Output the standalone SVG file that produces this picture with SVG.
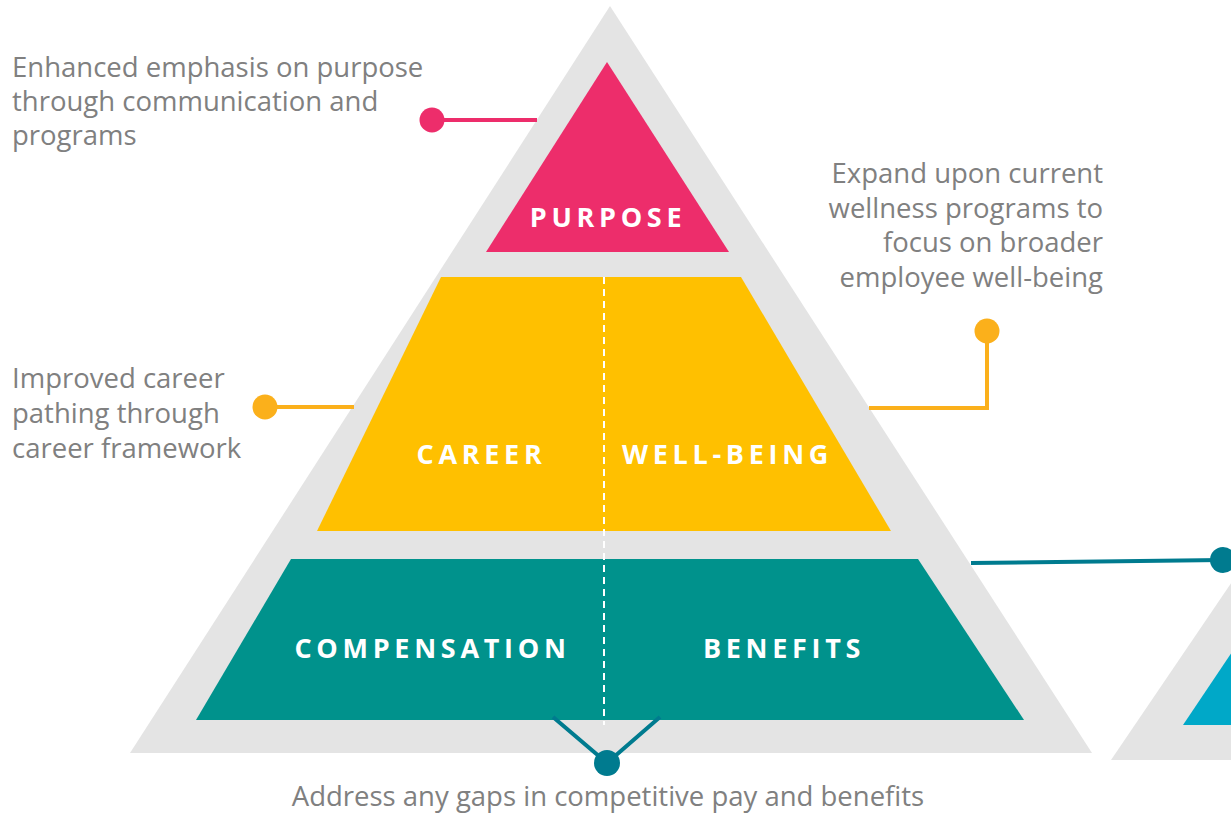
<svg xmlns="http://www.w3.org/2000/svg" width="1231" height="816" viewBox="0 0 1231 816">
<style>
.note{font-family:"Open Sans","Noto Sans","Liberation Sans",sans-serif;font-size:27.5px;fill:#808080}
.lbl{font-family:"Open Sans","Noto Sans","Liberation Sans",sans-serif;font-size:27px;font-weight:bold;fill:#ffffff;letter-spacing:4.7px;text-anchor:middle}
.gray{fill:#e4e4e4}
</style>
<rect width="1231" height="816" fill="#ffffff"/>
<g id="pyramid-bg"><polygon class="gray" points="610,6 130,753 1092,753"/></g>
<g id="second-pyramid">
<polygon class="gray" points="1111,760 1240,570 1240,760"/>
<polygon fill="#00a8c8" points="1183,725 1240,640 1240,725"/>
</g>
<g id="purpose">
<polygon fill="#ed2d6b" points="607,62 486,252 729,252"/>
<text class="lbl" x="608" y="227">PURPOSE</text>
</g>
<g id="career-wellbeing">
<polygon fill="#ffc000" points="441,277 741,277 891,531 317,531"/>
<text class="lbl" x="481.5" y="464">CAREER</text>
<text class="lbl" x="727.5" y="464">WELL-BEING</text>
</g>
<g id="compensation-benefits">
<polygon fill="#00928c" points="291,559 918,559 1024,720 196,720"/>
<text class="lbl" x="432.5" y="658">COMPENSATION</text>
<text class="lbl" x="784" y="658">BENEFITS</text>
</g>
<g id="divider"><line x1="604" y1="277" x2="604" y2="725" stroke="#ffffff" stroke-width="2" stroke-dasharray="7,5"/></g>
<g id="connectors" fill="none" stroke-width="4">
<line x1="432" y1="120" x2="537" y2="120" stroke="#ed2d6b"/>
<line x1="265" y1="407" x2="354" y2="407" stroke="#fbb01b"/>
<polyline points="869,408 987,408 987,331" stroke="#fbb01b"/>
<line x1="971" y1="563" x2="1222" y2="560" stroke="#007b8f"/>
<polyline points="553,717 607,763 660,717" stroke="#007b8f"/>
<circle cx="432" cy="120" r="12.5" fill="#ed2d6b" stroke="none"/>
<circle cx="265" cy="407" r="12.5" fill="#fbb01b" stroke="none"/>
<circle cx="987" cy="331" r="12.5" fill="#fbb01b" stroke="none"/>
<circle cx="1223" cy="560" r="13" fill="#007b8f" stroke="none"/>
<circle cx="607" cy="763" r="13" fill="#007b8f" stroke="none"/>
</g>
<g id="note-purpose"><text class="note" x="12" y="77">Enhanced emphasis on purpose</text><text class="note" x="12" y="111">through communication and</text><text class="note" x="12" y="145">programs</text></g>
<g id="note-career"><text class="note" x="12" y="388">Improved career</text><text class="note" x="12" y="423">pathing through</text><text class="note" x="12" y="458">career framework</text></g>
<g id="note-wellbeing" text-anchor="end"><text class="note" x="1103" y="183">Expand upon current</text><text class="note" x="1103" y="218">wellness programs to</text><text class="note" x="1103" y="252">focus on broader</text><text class="note" x="1103" y="287">employee well-being</text></g>
<g id="note-pay"><text class="note" x="608" y="806" text-anchor="middle">Address any gaps in competitive pay and benefits</text></g>
</svg>
